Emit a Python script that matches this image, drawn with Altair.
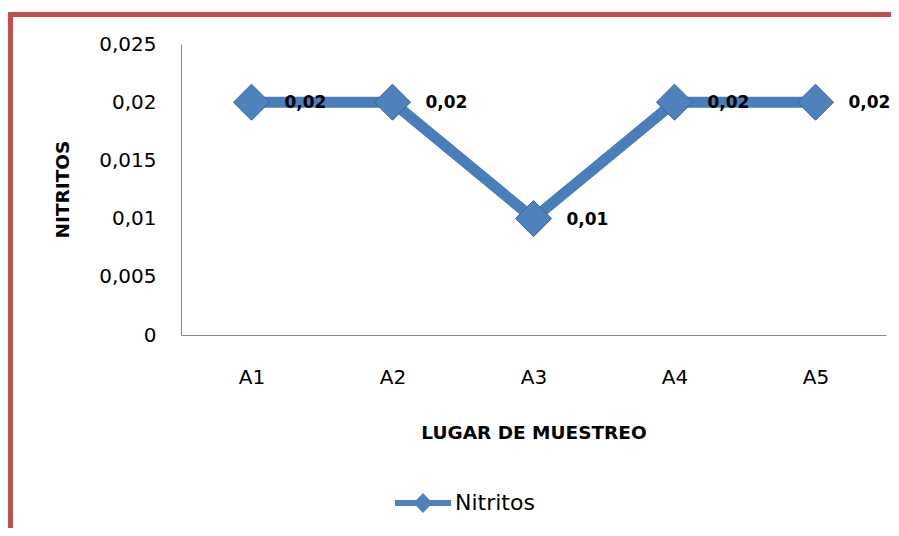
import altair as alt
import pandas as pd

categories = ["A1", "A2", "A3", "A4", "A5"]
values = [0.02, 0.02, 0.01, 0.02, 0.02]
series_name = "Nitritos"
y_ticks = [0, 0.005, 0.01, 0.015, 0.02, 0.025]

df = pd.DataFrame({"lugar": categories, "v": values, "serie": [series_name] * len(categories)})

FONT = "DejaVu Sans"
LINE = "#4A7EBB"
RED = "#C0504D"

legend_path = ("M-1,-0.11L1,-0.11L1,0.11L-1,0.11Z "
               "M-0.34,0L0,-0.36L0.34,0L0,0.36Z")

x_enc = alt.X("lugar:N", sort=categories,
              scale=alt.Scale(type="point", padding=0.5),
              axis=alt.Axis(title="LUGAR DE MUESTREO", labelAngle=0, ticks=False,
                            domainColor="#868686", labelFont=FONT, labelFontSize=20,
                            labelColor="#000000", labelPadding=32,
                            titleFont=FONT, titleFontSize=18.5, titleFontWeight="bold",
                            titleColor="#000000", titleBaseline="middle", titleY=97))
y_enc = alt.Y("v:Q", scale=alt.Scale(domain=[0, 0.025], nice=False, zero=True),
              axis=alt.Axis(title="NITRITOS", values=y_ticks, ticks=False, grid=False,
                            domainColor="#868686", labelFont=FONT, labelFontSize=20,
                            labelColor="#000000", labelPadding=25,
                            labelExpr="replace(toString(datum.value), '.', ',')",
                            titleFont=FONT, titleFontSize=18.5, titleFontWeight="bold",
                            titleColor="#000000", titleAngle=-90, titleBaseline="middle",
                            titleAlign="center", titleX=-119, titleY=145))

base = alt.Chart(df)

line = base.mark_line(color=LINE, strokeWidth=11, strokeJoin="round").encode(x=x_enc, y=y_enc)

points = base.mark_point(shape="diamond", filled=True, size=1300, opacity=1,
                         stroke="#36649A", strokeWidth=1).encode(
    x=x_enc, y=y_enc,
    color=alt.Color("serie:N", scale=alt.Scale(range=["#4F81BD"]),
                    legend=alt.Legend(title=None, orient="none", legendX=214, legendY=431,
                                      symbolType=legend_path, symbolSize=3136,
                                      symbolStrokeWidth=0, labelFont=FONT, labelFontSize=22,
                                      labelColor="#000000", labelOffset=4, padding=0)))

labels = base.mark_text(align="left", baseline="middle", dx=33, dy=1, font=FONT, fontSize=17,
                        fontWeight="bold", color="#000000").transform_calculate(
    label="replace(format(datum.v, '.2f'), '.', ',')").encode(x=x_enc, y=y_enc, text="label:N")

frame_top = alt.Chart(alt.Data(values=[{}])).mark_rule(color=RED, strokeWidth=5).encode(
    x=alt.value(-173), x2=alt.value(710), y=alt.value(-29.5))
frame_left = alt.Chart(alt.Data(values=[{}])).mark_rule(color=RED, strokeWidth=5).encode(
    x=alt.value(-170.5), y=alt.value(-32), y2=alt.value(484))

chart = alt.layer(frame_top, frame_left, line, points, labels).properties(
    width=705, height=291,
    autosize=alt.AutoSizeParams(type="none"),
    padding={"left": 173, "top": 36, "right": 5, "bottom": 193},
).configure_view(strokeOpacity=0, strokeWidth=0)

chart.save("out.html", embed_options={"renderer": "svg", "actions": False})
